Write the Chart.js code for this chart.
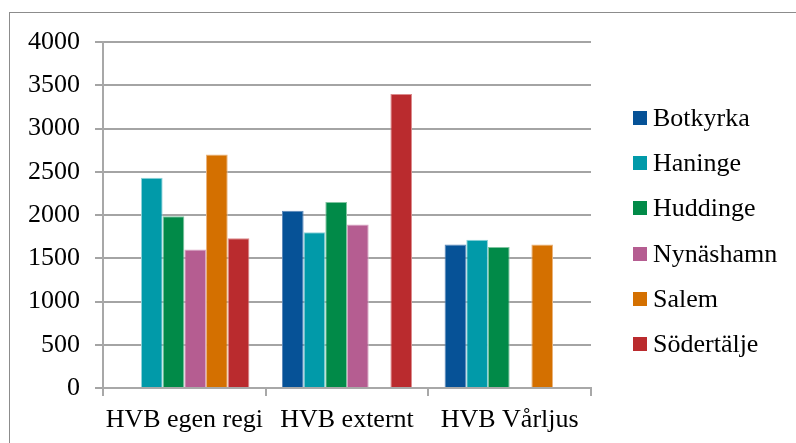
<!DOCTYPE html>
<html>
<head>
<meta charset="utf-8">
<script src="https://cdn.jsdelivr.net/npm/chart.js@4"></script>
<style>
  html, body { margin: 0; padding: 0; background: #fff; }
  #wrap { position: relative; width: 796px; height: 443px; overflow: hidden; }
  #frame { position: absolute; left: 9px; top: 12px; width: 820px; height: 480px; border: 1px solid #8c8c8c; box-sizing: border-box; }
  canvas { position: absolute; left: 0; top: 0; }
  #legend { position: absolute; left: 633px; top: 105px; font-family: "Liberation Serif", "Times New Roman", serif; font-size: 26px; color: #000; }
  .item { display: flex; align-items: center; height: 26px; line-height: 26px; margin-bottom: 19.2px; white-space: nowrap; }
  .sw { width: 14px; height: 14px; margin-right: 6px; flex: none; }
</style>
</head>
<body>
<div id="wrap">
  <div id="frame"></div>
  <canvas id="c" width="796" height="443"></canvas>
  <div id="legend"></div>
</div>
<script>
const categories = ["HVB egen regi", "HVB externt", "HVB Vårljus"];
const seriesNames = ["Botkyrka", "Haninge", "Huddinge", "Nynäshamn", "Salem", "Södertälje"];
const botkyrka   = [null, 2050, 1660];
const haninge    = [2430, 1800, 1715];
const huddinge   = [1985, 2150, 1630];
const nynashamn  = [1600, 1890, null];
const salem      = [2700, null, 1660];
const sodertalje = [1730, 3400, null];
const yTicks = [0, 500, 1000, 1500, 2000, 2500, 3000, 3500, 4000];

const seriesValues = [botkyrka, haninge, huddinge, nynashamn, salem, sodertalje];
const colors  = ["#065297", "#019AA9", "#018A48", "#B55D91", "#D47000", "#BA2B2E"];
const borders = ["#5a86b8", "#8fd3da", "#7fc4a0", "#d9a6c4", "#eab27a", "#dc8a8c"];

const FONT = '"Liberation Serif", "Times New Roman", serif';

const datasets = seriesNames.map((name, i) => ({
  label: name,
  data: seriesValues[i],
  backgroundColor: colors[i],
  borderColor: borders[i],
  borderWidth: 1,
  categoryPercentage: 0.8,
  barPercentage: 1.0
}));

new Chart(document.getElementById('c'), {
  type: 'bar',
  data: { labels: categories, datasets },
  options: {
    responsive: false,
    animation: false,
    devicePixelRatio: 1,
    layout: { padding: { left: 0, right: 205, top: 42, bottom: 0 } },
    plugins: { legend: { display: false }, tooltip: { enabled: false } },
    scales: {
      x: {
        afterFit: s => { s.height = 55; },
        grid: { display: true, offset: true, drawOnChartArea: false, drawTicks: true, tickLength: 8, color: '#a8a8a8', lineWidth: 2 },
        border: { display: true, color: '#a8a8a8', width: 2 },
        ticks: { color: '#000', font: { family: FONT, size: 26 }, padding: 9, maxRotation: 0, autoSkip: false }
      },
      y: {
        min: 0, max: 4000,
        afterFit: s => { s.width = 103; },
        afterBuildTicks: s => { s.ticks = yTicks.map(v => ({ value: v })); },
        grid: { color: '#a4a4a4', lineWidth: 2, drawTicks: true, tickLength: 8 },
        border: { display: true, color: '#a8a8a8', width: 2 },
        ticks: { color: '#000', font: { family: FONT, size: 26 }, padding: 15, callback: v => String(v) }
      }
    }
  }
});

const legend = document.getElementById('legend');
seriesNames.forEach((name, i) => {
  const it = document.createElement('div');
  it.className = 'item';
  const sw = document.createElement('span');
  sw.className = 'sw';
  sw.style.background = colors[i];
  const tx = document.createElement('span');
  tx.textContent = name;
  it.appendChild(sw);
  it.appendChild(tx);
  legend.appendChild(it);
});
</script>
</body>
</html>
